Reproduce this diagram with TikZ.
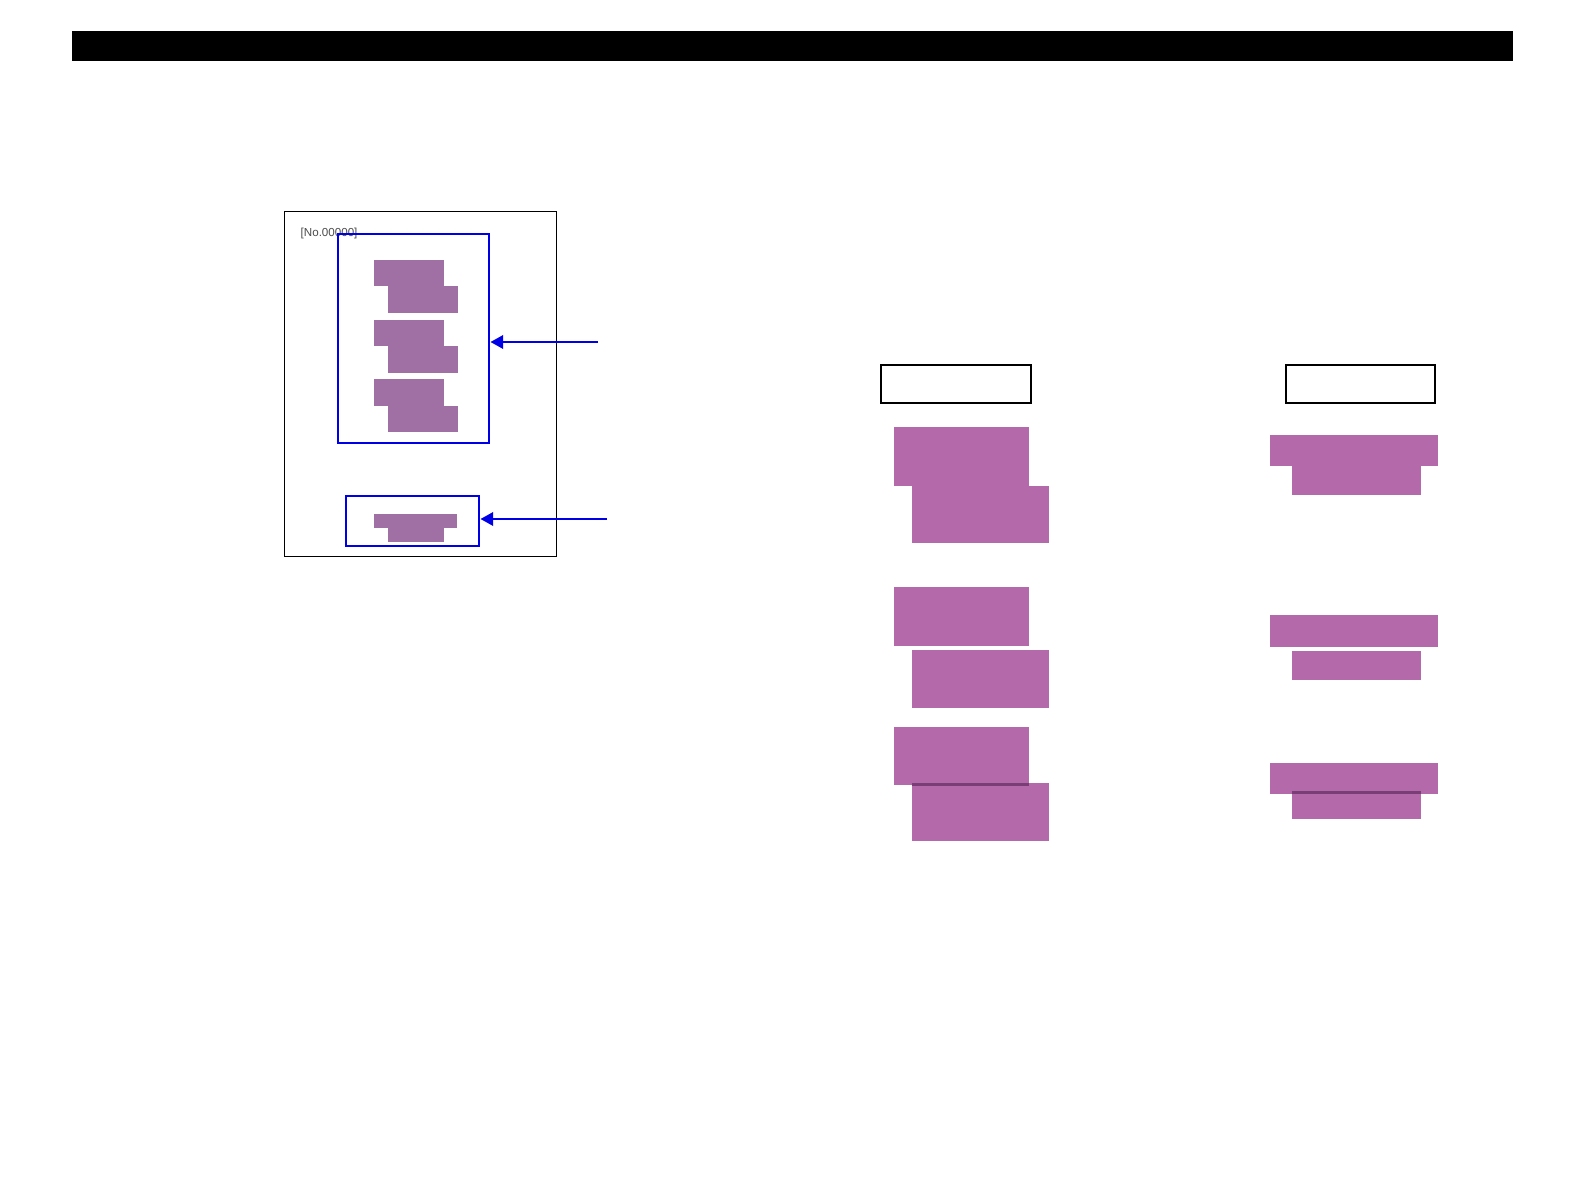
\documentclass[tikz,border=0pt]{standalone}
\usepackage{fontspec}
\setmainfont{Liberation Sans}
\usetikzlibrary{arrows.meta,positioning,calc}
\definecolor{formpurple}{RGB}{160,112,165}
\definecolor{blockpurple}{RGB}{180,105,170}
\definecolor{blockdark}{RGB}{122,62,118}
\definecolor{markblue}{RGB}{0,0,230}

\begin{document}
\begin{tikzpicture}[x=0.01cm,y=-0.01cm,
  pagebox/.style={draw=black, line width=0.3pt, inner sep=0},
  markbox/.style={draw=markblue, line width=0.65pt, inner sep=0},
  headbox/.style={draw=black, line width=0.38pt, inner sep=0},
  markarrow/.style={draw=markblue, line width=0.65pt, -{Triangle[length=3.6pt,width=3.8pt]}},
  smallblock/.style={fill=formpurple},
  bigblock/.style={fill=blockpurple},
  ]
  \useasboundingbox (0,0) rectangle (1584,1191);

  % 上の帯
  \fill[black] (72,31) rectangle (1513,61);

  % 用紙
  \node[pagebox, minimum width=2.715cm, minimum height=3.445cm] (formpage) at (420.25,383.75) {};
  \node[anchor=west, inner sep=0, text=black!70, font=\fontsize{3.3}{4}\selectfont] (formno) at (300,233.5) {[No.00000]};

  \foreach \y in {260,320,379.3} {
    \fill[smallblock] (373.7,\y) rectangle (443.7,\y+26.3);
    \fill[smallblock] (387.7,\y+26.3) rectangle (457.7,\y+52.7);
  }
  \fill[smallblock] (374.3,514) rectangle (457.3,527.7);
  \fill[smallblock] (388.3,527.7) rectangle (444,541.7);

  % 枠と矢印
  \node[markbox, minimum width=1.51cm, minimum height=2.09cm] (upperframe) at (413.8,338.6) {};
  \node[markbox, minimum width=1.33cm, minimum height=0.506cm] (lowerframe) at (412.8,521) {};

  \coordinate (uppertail) at (598,342);
  \coordinate (lowertail) at (607,519);
  \draw[markarrow] (uppertail) -- (upperframe.east |- uppertail);
  \draw[markarrow] (lowertail) -- (lowerframe.east |- lowertail);

  % 見出し
  \node[headbox, minimum width=1.50cm, minimum height=0.38cm] (leftheader) at (956,384) {};
  \node[headbox, minimum width=1.49cm, minimum height=0.38cm] (rightheader) at (1360.5,384) {};

  % 左の列
  \foreach \ua/\ub/\la/\lb in {427/486/486/543, 587/646/650/708, 727/785/783/841} {
    \fill[bigblock] (894,\ua) rectangle (1029,\ub);
    \fill[bigblock] (912,\la) rectangle (1049,\lb);
  }
  \fill[blockdark] (912,783) rectangle (1029,785.5);

  % 右の列
  \foreach \ua/\ub/\la/\lb in {435/466/466/495, 615/647/651/680, 763/794/791/819} {
    \fill[bigblock] (1270,\ua) rectangle (1438,\ub);
    \fill[bigblock] (1292,\la) rectangle (1421,\lb);
  }
  \fill[blockdark] (1292,791) rectangle (1421,794);
\end{tikzpicture}
\end{document}
